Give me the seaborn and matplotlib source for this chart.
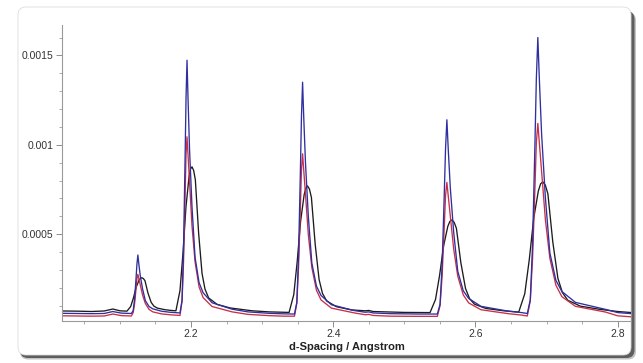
import numpy as np
import pandas as pd
import matplotlib
matplotlib.use("Agg")
import matplotlib.pyplot as plt
import seaborn as sns
from matplotlib.patches import FancyBboxPatch
from matplotlib.ticker import FixedLocator, MultipleLocator

# ---------------- data (d-spacing in Angstrom, intensity in units of 1e-6) ----------------
sharp_x = [
    2.018, 2.040, 2.060, 2.078, 2.090, 2.102,
    2.1161, 2.1187, 2.1207, 2.1227, 2.1240, 2.1253, 2.1266, 2.1286, 2.1319, 2.1358, 2.1410, 2.1463, 2.1581, 2.1700,
    2.1845, 2.1874, 2.1895, 2.1916, 2.1930, 2.1944, 2.1958, 2.1979, 2.2014, 2.2057, 2.2113, 2.2170, 2.2296, 2.2578,
    2.2800, 2.3100, 2.3300,
    2.3455, 2.3488, 2.3512, 2.3537, 2.3553, 2.3569, 2.3585, 2.3610, 2.3650, 2.3699, 2.3764, 2.3828, 2.3974, 2.4299,
    2.4450, 2.4500, 2.4560, 2.4800, 2.5200,
    2.5464, 2.5502, 2.5531, 2.5560, 2.5579, 2.5598, 2.5617, 2.5646, 2.5694, 2.5751, 2.5828, 2.5905, 2.6077, 2.6461,
    2.6650,
    2.6729, 2.6771, 2.6803, 2.6835, 2.6856, 2.6877, 2.6898, 2.6930, 2.6983, 2.7046, 2.7131, 2.7215, 2.7406, 2.7829,
    2.8000, 2.8200,
]
blue_y_e6 = [
    58, 57, 56, 57, 68, 59,
    57, 73, 139, 253, 335, 384, 335, 270, 194, 129, 96, 83, 70, 64,
    60, 131, 413, 908, 1261, 1473, 1261, 978, 653, 371, 230, 173, 117, 81,
    66, 58, 55,
    54, 119, 378, 832, 1156, 1350, 1156, 896, 598, 339, 210, 158, 106, 73,
    64, 66, 60, 56, 54,
    54, 108, 326, 706, 977, 1140, 977, 760, 510, 293, 184, 141, 97, 70,
    62,
    57, 134, 443, 983, 1369, 1600, 1369, 1060, 705, 396, 242, 180, 119, 80,
    62, 56,
]
red_y_e6 = [
    44, 43, 42, 43, 54, 45,
    43, 62, 113, 194, 253, 276, 253, 218, 160, 113, 80, 66, 55, 50,
    46, 126, 346, 695, 945, 1045, 945, 795, 546, 346, 206, 146, 96, 66,
    52, 45, 42,
    42, 115, 314, 632, 859, 950, 859, 723, 496, 314, 187, 133, 87, 60,
    50, 52, 46, 42, 41,
    41, 101, 266, 528, 715, 790, 715, 603, 416, 266, 161, 116, 78, 56,
    48,
    43, 129, 366, 743, 1012, 1120, 1012, 851, 582, 366, 215, 151, 97, 65,
    44, 38,
]
black_x = [
    2.018, 2.040, 2.060, 2.078, 2.090, 2.100,
    2.1099, 2.1152, 2.1191, 2.1230, 2.1270, 2.1289, 2.1309, 2.1331, 2.1353, 2.1395, 2.1440, 2.1479, 2.1527,
    2.1636, 2.1720,
    2.1788, 2.1845, 2.1887, 2.1929, 2.1972, 2.1993, 2.2014, 2.2037, 2.2061, 2.2107, 2.2155, 2.2197, 2.2248,
    2.2366, 2.2550, 2.2860, 2.3100,
    2.3379, 2.3445, 2.3493, 2.3541, 2.3591, 2.3615, 2.3639, 2.3666, 2.3693, 2.3746, 2.3801, 2.3849, 2.3908,
    2.4044, 2.4255, 2.4450, 2.4500, 2.4560, 2.5000,
    2.5361, 2.5438, 2.5495, 2.5552, 2.5611, 2.5640, 2.5668, 2.5700, 2.5732, 2.5794, 2.5860, 2.5917, 2.5986,
    2.6147, 2.6397,
    2.6608, 2.6693, 2.6756, 2.6819, 2.6884, 2.6916, 2.6947, 2.6982, 2.7018, 2.7087, 2.7159, 2.7222, 2.7298,
    2.7475, 2.7751, 2.8000, 2.8200,
]
black_y_e6 = [
    71, 70, 68, 71, 82, 72,
    70, 96, 145, 205, 244, 254, 257, 252, 240, 171, 119, 98, 87,
    78, 74,
    72, 185, 394, 652, 821, 865, 877, 857, 805, 507, 281, 193, 144,
    108, 88, 72, 66,
    63, 162, 346, 572, 721, 759, 770, 752, 706, 445, 247, 169, 127,
    95, 77, 72, 74, 68, 63,
    62, 135, 269, 435, 544, 572, 580, 567, 533, 342, 197, 140, 109,
    85, 72,
    65, 167, 356, 589, 742, 782, 793, 775, 727, 458, 254, 174, 131,
    98, 80, 68, 62,
]

series_names = ["black", "red", "blue"]
series_colors = {"black": "#1c1c1c", "red": "#c83048", "blue": "#2f2fa0"}

xtick_vals = [2.2, 2.4, 2.6, 2.8]
xtick_labels = ["2.2", "2.4", "2.6", "2.8"]
ytick_vals = [0.0005, 0.001, 0.0015]
ytick_labels = ["0.0005", "0.001", "0.0015"]
x_label = "d-Spacing / Angstrom"

# ---------------- build table ----------------
frames = [
    pd.DataFrame({"d": black_x, "intensity": np.array(black_y_e6) * 1e-6, "series": "black"}),
    pd.DataFrame({"d": sharp_x, "intensity": np.array(red_y_e6) * 1e-6, "series": "red"}),
    pd.DataFrame({"d": sharp_x, "intensity": np.array(blue_y_e6) * 1e-6, "series": "blue"}),
]
df = pd.concat(frames, ignore_index=True)

# ---------------- style ----------------
sns.set_theme(style="ticks")
plt.rcParams["font.family"] = ["Liberation Sans", "DejaVu Sans"]

fig = plt.figure(figsize=(6.43, 3.63), dpi=100)
fig.patch.set_facecolor("white")

# screenshot-like panel with drop shadow (inches)
soft = FancyBboxPatch((0.20, 0.035), 6.16, 3.47, boxstyle="round,pad=0,rounding_size=0.08",
                      transform=fig.dpi_scale_trans, facecolor="#c4c4c4", edgecolor="none", zorder=-12)
dark = FancyBboxPatch((0.20, 0.05), 6.145, 3.47, boxstyle="round,pad=0,rounding_size=0.08",
                      transform=fig.dpi_scale_trans, facecolor="#5e5e5e", edgecolor="none", zorder=-11)
panel = FancyBboxPatch((0.18, 0.08), 6.13, 3.48, boxstyle="round,pad=0,rounding_size=0.08",
                       transform=fig.dpi_scale_trans, facecolor="white", edgecolor="#dcdcdc",
                       linewidth=0.6, zorder=-10)
for p in (soft, dark, panel):
    fig.add_artist(p)

ax = fig.add_axes([62 / 643, 42 / 363, (631 - 62) / 643, (321 - 25) / 363])
ax.set_facecolor("none")

sns.lineplot(data=df, x="d", y="intensity", hue="series", hue_order=series_names,
             palette=series_colors, estimator=None, sort=False, linewidth=0.95,
             legend=False, ax=ax)

ax.set_xlim(2.0186, 2.8187)
ax.set_ylim(15e-6, 1.67e-3)

ax.xaxis.set_major_locator(FixedLocator(xtick_vals))
ax.set_xticklabels(xtick_labels)
ax.xaxis.set_minor_locator(MultipleLocator(0.05))
ax.yaxis.set_major_locator(FixedLocator(ytick_vals))
ax.set_yticklabels(ytick_labels)
ax.yaxis.set_minor_locator(MultipleLocator(0.0001))

for side in ("top", "right"):
    ax.spines[side].set_visible(False)
for side in ("left", "bottom"):
    ax.spines[side].set_color("#9a9a9a")
    ax.spines[side].set_linewidth(0.8)

ax.tick_params(axis="both", which="major", length=4, width=0.7, color="#8c8c8c",
               labelsize=7.5, labelcolor="#333333", direction="out", pad=2,
               bottom=True, left=True)
ax.tick_params(axis="both", which="minor", length=2.2, width=0.6, color="#9c9c9c",
               direction="out", bottom=True, left=True)

ax.set_xlabel(x_label, fontsize=8, fontweight="bold", color="#222222", labelpad=2)
ax.set_ylabel("")

fig.savefig("out.png", dpi=100, facecolor=fig.get_facecolor())
